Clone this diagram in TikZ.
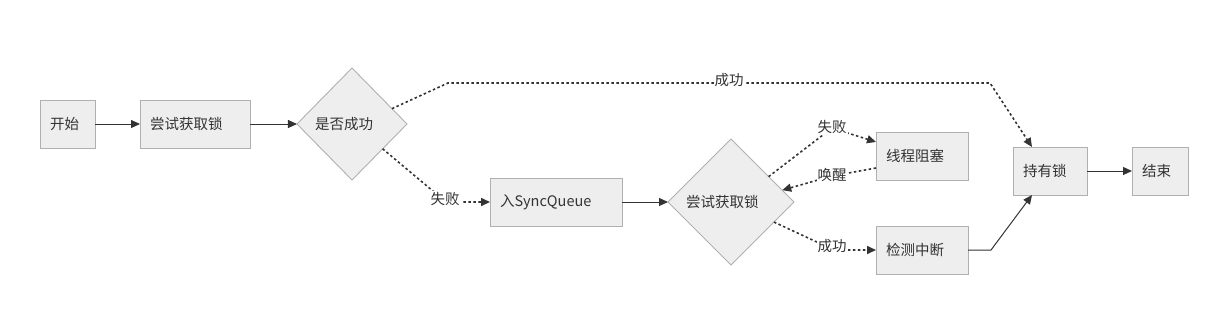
\documentclass[tikz,border=0pt]{standalone}
\usepackage{fontspec}
\setmainfont{Noto Sans CJK SC}
\usetikzlibrary{shapes.geometric,arrows.meta}
\definecolor{boxfill}{HTML}{EEEEEE}
\definecolor{boxline}{HTML}{B0B0B0}
\definecolor{edgec}{HTML}{333333}
\newcommand\myfs{\fontsize{14.5}{17}\selectfont}
\begin{document}
\begin{tikzpicture}[x=1pt,y=-1pt,
  box/.style={draw=boxline,fill=boxfill,line width=0.9pt,minimum height=48pt,
    inner xsep=10pt,inner ysep=0pt,outer sep=0pt,align=left,anchor=north west,
    font=\myfs,text=black!80},
  dia/.style={diamond,draw=boxline,fill=boxfill,line width=0.9pt,inner sep=0pt,
    outer sep=0pt,align=left,font=\myfs,text=black!80},
  arr/.style={draw=edgec,line width=1pt,-{Triangle[length=9pt,width=8pt]}},
  dot/.style={draw=edgec,line width=1.6pt,dash pattern=on 2.5pt off 2.5pt,
    -{Triangle[length=9pt,width=8pt]}},
  lbl/.style={fill=white,inner sep=1pt,font=\myfs,text=black!80}
]
\useasboundingbox (0,0) rectangle (1218,322);

\node[box,text width=35pt] (start) at (40,100) {开始};
\node[box,text width=90pt] (try1) at (140,100) {尝试获取锁};
\node[dia,minimum width=110pt,minimum height=112pt,text width=74pt] (d1) at (352,124) {是否成功};
\node[box,text width=112pt] (sync) at (490,178) {入SyncQueue};
\node[dia,minimum width=126pt,minimum height=126pt,text width=90pt] (d2) at (731,202) {尝试获取锁};
\node[box,text width=72pt] (block) at (876,132) {线程阻塞};
\node[box,text width=72pt] (check) at (876,226) {检测中断};
\node[box,text width=54pt] (hold) at (1013,147) {持有锁};
\node[box,text width=36pt] (fin) at (1132,147) {结束};

\coordinate (c1) at (448,83);
\coordinate (c2) at (990,83);
\coordinate (c3) at (446,202);
\coordinate (c4) at (832,128);
\coordinate (c5) at (832,176);
\coordinate (c6) at (834,250);
\coordinate (c7) at (991,250);

\draw[arr] (start) -- (try1);
\draw[arr] (try1) -- (d1);
\draw[dot] (d1.21) -- (c1) -- (c2) -- ([xshift=19pt]hold.north west);
\node[lbl] (l1) at (729,80) {成功};
\draw[dot] (d1.-39) -- (c3) -- (sync.west);
\node[lbl] (l2) at (445,199) {失败};
\draw[arr] (sync) -- (d2);
\draw[dot] (d2.34) -- (c4) -- ([yshift=-10pt]block.north west);
\node[lbl] (l3) at (832,127) {失败};
\draw[dot] ([yshift=-36pt]block.north west) -- (c5) -- (d2.13);
\node[lbl] (l4) at (832,175) {唤醒};
\draw[dot] (d2.-25) -- (c6) -- (check.west);
\node[lbl] (l5) at (832,246) {成功};
\draw[arr] (check) -- (c7) -- ([xshift=19pt]hold.south west);
\draw[arr] (hold) -- (fin);
\end{tikzpicture}
\end{document}
